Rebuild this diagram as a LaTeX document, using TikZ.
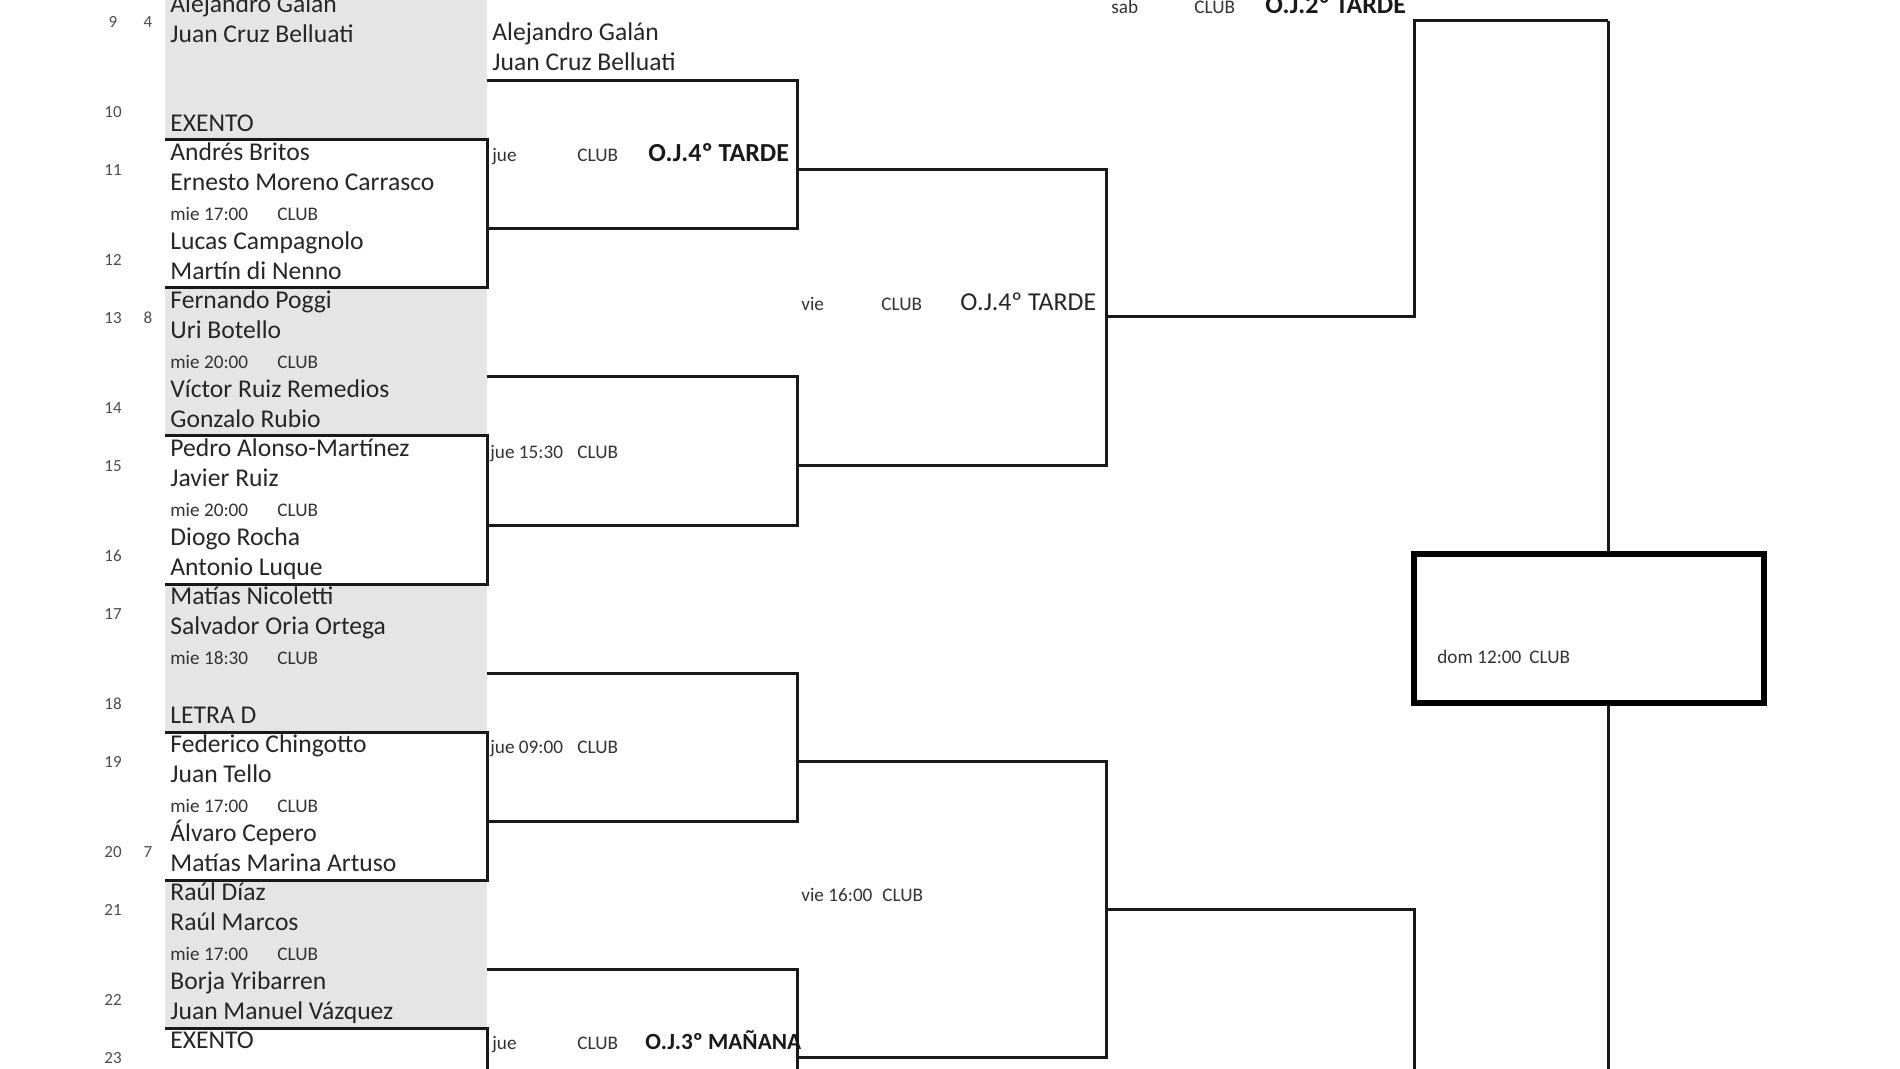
\documentclass[tikz,border=0pt]{standalone}
\usepackage{fontspec}
\setmainfont{Carlito}
\begin{document}
\begin{tikzpicture}[x=0.5pt,y=-0.5pt,
  nm/.style={anchor=mid west,inner sep=0pt,yshift=-1.2pt,font=\fontsize{12.8}{14}\selectfont,text=black!85},
  sm/.style={anchor=mid west,inner sep=0pt,yshift=-1.2pt,font=\fontsize{9.6}{11}\selectfont,text=black!80},
  bl/.style={anchor=mid west,inner sep=0pt,yshift=-1.2pt,font=\fontsize{13}{14}\selectfont\bfseries,text=black!90},
  rn/.style={anchor=mid,inner sep=0pt,yshift=-1.2pt,font=\fontsize{8.5}{10}\selectfont,text=black!70},
  brk/.style={line width=1.5pt,draw=black!90},
  finalbox/.style={line width=3pt,draw=black},
  shade/.style={fill=black!10,draw=none}]
\useasboundingbox (0,0) rectangle (1900,1069);
\clip (0,0) rectangle (1900,1069);
\fill[white] (0,0) rectangle (1900,1069);

% gray slots
\fill[shade] (165,-8) rectangle (487,140);
\fill[shade] (165,288) rectangle (487,436);
\fill[shade] (165,584) rectangle (487,732);
\fill[shade] (165,880) rectangle (487,1028);

% row numbers and seeds
\node[rn] (r9) at (113,20) {9};   \node[rn] (sd4) at (148,20) {4};
\node[rn] (r10) at (113,110) {10};
\node[rn] (r11) at (113,168) {11};
\node[rn] (r12) at (113,258) {12};
\node[rn] (r13) at (113,316) {13}; \node[rn] (sd8) at (148,316) {8};
\node[rn] (r14) at (113,406) {14};
\node[rn] (r15) at (113,464) {15};
\node[rn] (r16) at (113,554) {16};
\node[rn] (r17) at (113,612) {17};
\node[rn] (r18) at (113,702) {18};
\node[rn] (r19) at (113,760) {19};
\node[rn] (r20) at (113,850) {20}; \node[rn] (sd7) at (148,850) {7};
\node[rn] (r21) at (113,908) {21};
\node[rn] (r22) at (113,998) {22};
\node[rn] (r23) at (113,1056) {23};

% slot 0
\node[nm] (p9a) at (170,5) {Alejandro Galán};
\node[nm] (p9b) at (170,35) {Juan Cruz Belluati};
\node[nm] (p10) at (170,124) {EXENTO};
% slot 1
\node[nm] (p11a) at (170,153) {Andrés Britos};
\node[nm] (p11b) at (170,183) {Ernesto Moreno Carrasco};
\node[sm] (t1) at (170,213) {mie 17:00};
\node[sm] (c1) at (277,213) {CLUB};
\node[nm] (p12a) at (170,242) {Lucas Campagnolo};
\node[nm] (p12b) at (170,272) {Martín di Nenno};
% slot 2
\node[nm] (p13a) at (170,301) {Fernando Poggi};
\node[nm] (p13b) at (170,331) {Uri Botello};
\node[sm] (t2) at (170,361) {mie 20:00};
\node[sm] (c2) at (277,361) {CLUB};
\node[nm] (p14a) at (170,390) {Víctor Ruiz Remedios};
\node[nm] (p14b) at (170,420) {Gonzalo Rubio};
% slot 3
\node[nm] (p15a) at (170,449) {Pedro Alonso-Martínez};
\node[nm] (p15b) at (170,479) {Javier Ruiz};
\node[sm] (t3) at (170,509) {mie 20:00};
\node[sm] (c3) at (277,509) {CLUB};
\node[nm] (p16a) at (170,538) {Diogo Rocha};
\node[nm] (p16b) at (170,568) {Antonio Luque};
% slot 4
\node[nm] (p17a) at (170,597) {Matías Nicoletti};
\node[nm] (p17b) at (170,627) {Salvador Oria Ortega};
\node[sm] (t4) at (170,657) {mie 18:30};
\node[sm] (c4) at (277,657) {CLUB};
\node[nm] (p18) at (170,716) {LETRA D};
% slot 5
\node[nm] (p19a) at (170,745) {Federico Chingotto};
\node[nm] (p19b) at (170,775) {Juan Tello};
\node[sm] (t5) at (170,805) {mie 17:00};
\node[sm] (c5) at (277,805) {CLUB};
\node[nm] (p20a) at (170,834) {Álvaro Cepero};
\node[nm] (p20b) at (170,864) {Matías Marina Artuso};
% slot 6
\node[nm] (p21a) at (170,893) {Raúl Díaz};
\node[nm] (p21b) at (170,923) {Raúl Marcos};
\node[sm] (t6) at (170,953) {mie 17:00};
\node[sm] (c6) at (277,953) {CLUB};
\node[nm] (p22a) at (170,982) {Borja Yribarren};
\node[nm] (p22b) at (170,1012) {Juan Manuel Vázquez};
% slot 7
\node[nm] (p23) at (170,1041) {EXENTO};

% round 1 brackets (slots 1,3,5,7)
\coordinate (b1t) at (165,140); \coordinate (b1r) at (487,140);
\draw[brk] (b1t) -- (b1r) -- (487,288) -- (165,288);
\draw[brk] (165,436) -- (487,436) -- (487,584) -- (165,584);
\draw[brk] (165,732) -- (487,732) -- (487,880) -- (165,880);
\draw[brk] (165,1028) -- (487,1028) -- (487,1176) -- (165,1176);

% round 2
\node[nm] (w9a) at (492,33) {Alejandro Galán};
\node[nm] (w9b) at (492,63) {Juan Cruz Belluati};
\coordinate (qa1) at (487,81); \coordinate (qa2) at (797,81);
\coordinate (qa3) at (797,229); \coordinate (qa4) at (487,229);
\draw[brk] (qa1) -- (qa2) -- (qa3) -- (qa4);
\node[sm] (qaday) at (492,154) {jue};
\node[sm] (qaclub) at (577,154) {CLUB};
\node[bl] (qaoj) at (648,154) {O.J.4º TARDE};

\coordinate (qb1) at (487,377); \coordinate (qb2) at (797,377);
\coordinate (qb3) at (797,525); \coordinate (qb4) at (487,525);
\draw[brk] (qb1) -- (qb2) -- (qb3) -- (qb4);
\node[sm] (qbday) at (490,451) {jue 15:30};
\node[sm] (qbclub) at (577,451) {CLUB};

\coordinate (qc1) at (487,673); \coordinate (qc2) at (797,673);
\coordinate (qc3) at (797,821); \coordinate (qc4) at (487,821);
\draw[brk] (qc1) -- (qc2) -- (qc3) -- (qc4);
\node[sm] (qcday) at (490,746) {jue 09:00};
\node[sm] (qcclub) at (577,746) {CLUB};

\coordinate (qd1) at (487,969); \coordinate (qd2) at (797,969);
\coordinate (qd3) at (797,1117); \coordinate (qd4) at (487,1117);
\draw[brk] (qd1) -- (qd2) -- (qd3) -- (qd4);
\node[sm] (qdday) at (492,1042) {jue};
\node[sm] (qdclub) at (577,1042) {CLUB};
\node[bl,font=\fontsize{11.6}{14}\selectfont\bfseries] (qdoj) at (645,1042) {O.J.3º MAÑANA};

% round 3
\coordinate (sa1) at (797,170); \coordinate (sa2) at (1106,170);
\coordinate (sa3) at (1106,465); \coordinate (sa4) at (797,465);
\draw[brk] (sa1) -- (sa2) -- (sa3) -- (sa4);
\node[sm] (saday) at (801,303) {vie};
\node[sm] (saclub) at (881,303) {CLUB};
\node[nm,font=\fontsize{12.9}{14}\selectfont] (saoj) at (960,303) {O.J.4º TARDE};

\coordinate (sb1) at (797,761); \coordinate (sb2) at (1106,761);
\coordinate (sb3) at (1106,1057); \coordinate (sb4) at (797,1057);
\draw[brk] (sb1) -- (sb2) -- (sb3) -- (sb4);
\node[sm] (sbday) at (801,894) {vie 16:00};
\node[sm] (sbclub) at (882,894) {CLUB};

% round 4
\coordinate (fa1) at (1106,317); \coordinate (fa2) at (1414,317);
\coordinate (fa3) at (1414,21); \coordinate (fa4) at (1608,21);
\draw[brk] (fa1) -- (fa2) -- (fa3) -- (fa4);
\node[sm] (faday) at (1111,6) {sab};
\node[sm] (faclub) at (1194,6) {CLUB};
\node[bl] (faoj) at (1265,6) {O.J.2º TARDE};

\coordinate (fb1) at (1106,909); \coordinate (fb2) at (1414,909);
\coordinate (fb3) at (1414,1100);
\draw[brk] (fb1) -- (fb2) -- (fb3);

% final
\node[draw=none,minimum width=175pt,minimum height=74.5pt,inner sep=0pt] (fin) at (1589,628.5) {};
\draw[brk] (fa4) -- (fin.north -| fa4);
\coordinate (fbot) at (1608,1100);
\draw[brk] (fin.south -| fa4) -- (fbot);
\draw[finalbox] (fin.north west) rectangle (fin.south east);
\node[sm] (finday) at (1437,656) {dom 12:00};
\node[sm] (finclub) at (1529,656) {CLUB};
\end{tikzpicture}
\end{document}
